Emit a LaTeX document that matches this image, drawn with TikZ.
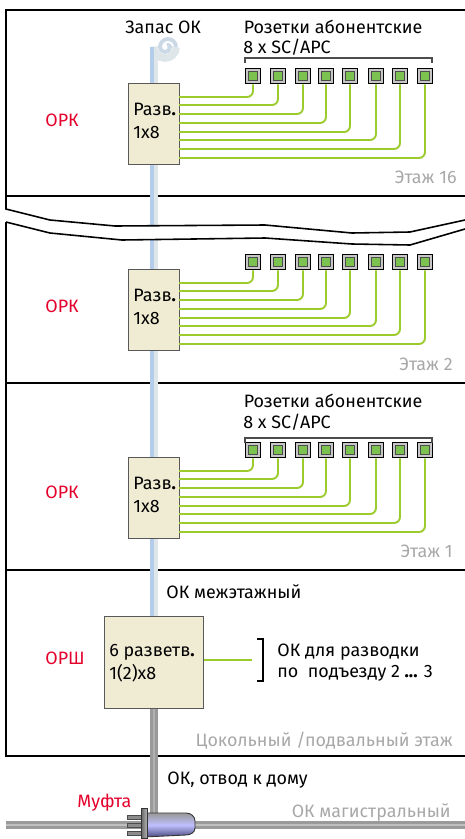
\documentclass[tikz,border=0pt]{standalone}
\usepackage{fontspec}
\setmainfont{Fira Sans}
\usetikzlibrary{positioning, calc}
\definecolor{boxfill}{HTML}{F0ECD4}
\definecolor{fibgreen}{HTML}{9CCB2E}
\definecolor{portgreen}{HTML}{7CC250}
\definecolor{orkred}{HTML}{E4002B}
\definecolor{floorgrey}{HTML}{A8A8A8}
\definecolor{cableblue}{HTML}{B4CDEA}
\definecolor{cablelight}{HTML}{DFE6EA}
\definecolor{coilblue}{HTML}{CBD9E6}
\definecolor{cablegrey}{HTML}{9A9A9A}
\newcommand{\px}{0.02cm}

\begin{document}
\begin{tikzpicture}[x=\px, y=-\px,
    wall/.style={line width=1.5pt, black},
    breakline/.style={line width=0.9pt, black},
    split/.style={draw=black!65, line width=0.7pt, fill=boxfill, inner sep=0pt},
    portbox/.style={draw=black, line width=0.8pt, fill=black!22, minimum size=15.5*\px, inner sep=0pt},
    portin/.style={draw=black!70, line width=0.4pt, fill=portgreen, minimum size=9.5*\px, inner sep=0pt},
    fibre/.style={fibgreen, line width=1.1pt, rounded corners=6*\px},
    label/.style={font=\fontsize{10.2pt}{12pt}\selectfont, inner sep=0pt, anchor=base west, black},
    redlabel/.style={font=\fontsize{10.2pt}{12pt}\selectfont, inner sep=0pt, anchor=base west, orkred},
    floorlabel/.style={font=\fontsize{10.2pt}{12pt}\selectfont, inner sep=0pt, anchor=base east, floorgrey},
]
\useasboundingbox (0,0) rectangle (465,839);

% walls
\draw[wall] (465,10) -- (6,10) -- (6,196) -- (465,196);
\draw[wall] (6,222) -- (6,756) -- (465,756);
\draw[wall] (6,383) -- (465,383);
\draw[wall] (6,570) -- (465,570);

% cables
\draw[coilblue, line width=2.2pt] (176,47) arc[start angle=0, end angle=-180, radius=8] arc[start angle=180, end angle=0, radius=5] arc[start angle=0, end angle=-120, radius=2];
\draw[cablelight, line width=4.4pt] (154,620) -- (154,47) arc[start angle=180, end angle=0, radius=11];
\draw[cableblue, line width=2pt] (151.8,620) -- (151.8,47);
\draw[cablegrey, line width=4.6pt] (154,700) -- (154,815);
\draw[black!30, line width=1.2pt] (154,700) -- (154,815);
\draw[cablegrey, line width=4pt] (6,825) -- (465,825);
\draw[black!25, line width=1.1pt] (6,825) -- (465,825);

% break in the building
\fill[white] (0,209) -- (6,209) -- (50,220) -- (115,226) -- (265,225) -- (352,233) -- (410,232) -- (465,220) -- (465,229) -- (410,245) -- (352,244) -- (265,238) -- (122,240) -- (50,233) -- (6,222) -- (0,222) -- cycle;
\draw[breakline] (6,196) -- (6,209) -- (50,220) -- (115,226) -- (265,225) -- (352,233) -- (410,232) -- (465,220);
\draw[breakline] (6,222) -- (50,233) -- (122,240) -- (265,238) -- (352,244) -- (410,245) -- (465,229);

% splitters and ports
\foreach \name/\ytop/\yport in {a/83/76, b/269/262, c/457/450}{
  \node[split, minimum width=51*\px, minimum height=81*\px, anchor=north west] (split\name) at (128,\ytop) {};
  \node[label] (txt\name) at (133,\ytop+32) {Разв\rlap{\textbf{.}}};
  \node[label] at (133,\ytop+55) {1x8};
  \foreach \i/\xp/\yf in {1/253/14,2/278/22,3/303/31,4/326/40,5/350/49,6/376/57,7/400/66,8/425/75}{
    \node[portbox] (port\name\i) at (\xp,\yport) {};
    \node[portin] at (\xp,\yport) {};
    \draw[fibre] (179,\ytop+\yf) -| (port\name\i.south);
  }
}

% brackets and their text
\draw[black!70, line width=0.7pt] (245,63) -- (245,58) -- (432,58) -- (432,63);
\draw[black!70, line width=0.7pt] (245,443) -- (245,438) -- (432,438) -- (432,443);
\node[label] (rozetkia) at (243.5,33) {Розетки абонентские};
\node[label] at (243,53) {8 x SC/APC};
\node[label] (rozetkic) at (243.5,407) {Розетки абонентские};
\node[label] at (243,428) {8 x SC/APC};
\node[label] (zapas) at (125,33) {Запас ОК};

\node[redlabel] at (45,126) {ОРК};
\node[redlabel] at (45,312) {ОРК};
\node[redlabel] at (45,498) {ОРК};
\node[redlabel] at (45,664) {ОРШ};
\node[redlabel] at (77,807) {Муфта};

\node[floorlabel] at (457,183) {Этаж 16};
\node[floorlabel] at (453,370) {Этаж 2};
\node[floorlabel] at (453,557) {Этаж 1};
\node[floorlabel] at (453,746) {Цокольный /подвальный этаж};
\node[floorlabel] at (451,817) {ОК магистральный};

% shaft box
\node[split, minimum width=99*\px, minimum height=92*\px, anchor=north west] (orsh) at (104,616) {};
\node[label] at (109,656) {6 разветв\rlap{\textbf{.}}};
\node[label] at (109,679) {1(2)x8};
\coordinate (fibend) at (252,660);
\draw[fibgreen, line width=1.1pt] (orsh.east |- fibend) -- (fibend);
\coordinate (brtop) at (257,639);
\coordinate (brbot) at (257,681);
\draw[black, line width=0.8pt] (brtop) -- ++(6,0) -- ($(brbot)+(6,0)$) -- (brbot);
\node[label] at (277,656) {ОК для разводки};
\node[label] at (277,677) {по\ \ подъезду 2 \textbf{...} 3};
\node[label] at (166,598) {ОК межэтажный};
\node[label] (otvod) at (167,784) {ОК, отвод к дому};

% coupling
\fill[black!45, draw=black!70, line width=0.4pt] (127,815) rectangle (141,819);
\fill[black!45, draw=black!70, line width=0.4pt] (127,823) rectangle (141,827);
\fill[black!45, draw=black!70, line width=0.4pt] (127,831) rectangle (141,835);
\draw[draw=black!80, line width=0.5pt, top color=black!40, bottom color=blue!30!black!70, middle color=white!75!blue] (144,813) -- (186,813) to[out=0, in=90] (195,821) -- (195,828) to[out=-90, in=0] (186,835) -- (144,837) -- cycle;
\draw[draw=black!80, line width=0.5pt, left color=black!60, right color=black!30] (141,808) rectangle (147,838);
\end{tikzpicture}
\end{document}
